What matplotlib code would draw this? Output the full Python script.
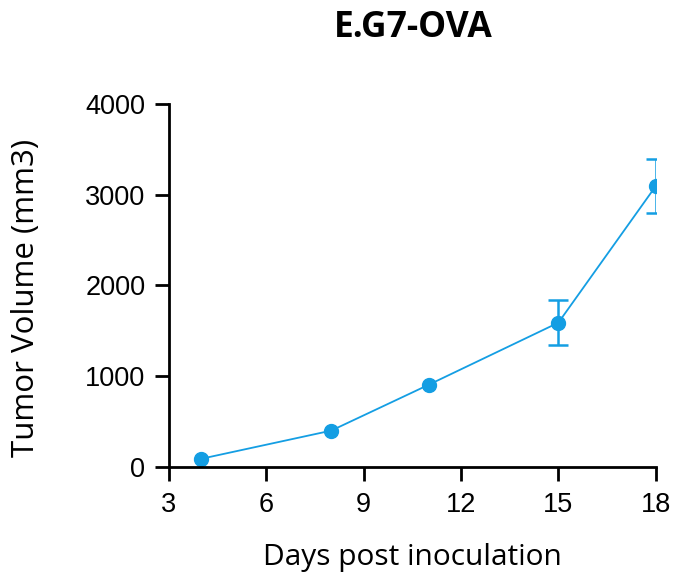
import numpy as np
import matplotlib.pyplot as plt

days = [4, 8, 11, 15, 18]
volume = [90, 400, 905, 1590, 3095]
err = [0, 0, 0, 250, 300]

xticks = [3, 6, 9, 12, 15, 18]
yticks = [0, 1000, 2000, 3000, 4000]

plt.rcParams['font.family'] = ['Open Sans', 'DejaVu Sans']

fig = plt.figure(figsize=(6.76, 5.75), dpi=100)
ax = fig.add_axes([0.25, 0.188, 0.72, 0.631])

cor = '#149ee3'
ax.plot(days, volume, color=cor, marker='o', markersize=10, linewidth=1.3)
# barras de erro so onde tem desvio
com_erro = [i for i in range(len(err)) if err[i] > 0]
ax.errorbar([days[i] for i in com_erro], [volume[i] for i in com_erro],
            yerr=[err[i] for i in com_erro], fmt='none', ecolor=cor,
            elinewidth=1.8, capsize=7, capthick=1.8)

ax.set_xlim(3, 18)
ax.set_ylim(0, 4000)
ax.set_xticks(xticks)
ax.set_yticks(yticks)
ax.spines['top'].set_visible(False)
ax.spines['right'].set_visible(False)
for s in ['left', 'bottom']:
    ax.spines[s].set_linewidth(2)
ax.tick_params(direction='out', length=10, width=2, labelsize=19.5)
ax.tick_params(axis='x', pad=8)
ax.tick_params(axis='y', pad=7)
for lbl in ax.get_xticklabels() + ax.get_yticklabels():
    lbl.set_family(['Liberation Sans', 'DejaVu Sans'])

ax.set_xlabel('Days post inoculation', fontsize=21.5, labelpad=18)
ax.set_ylabel('Tumor Volume (mm3)', fontsize=22.5)
ax.yaxis.set_label_coords(-0.262, 0.465)
fig.text(0.612, 0.951, 'E.G7-OVA', ha='center', va='center', fontsize=25.5, fontweight='bold')

fig.savefig('out.png', dpi=100)
